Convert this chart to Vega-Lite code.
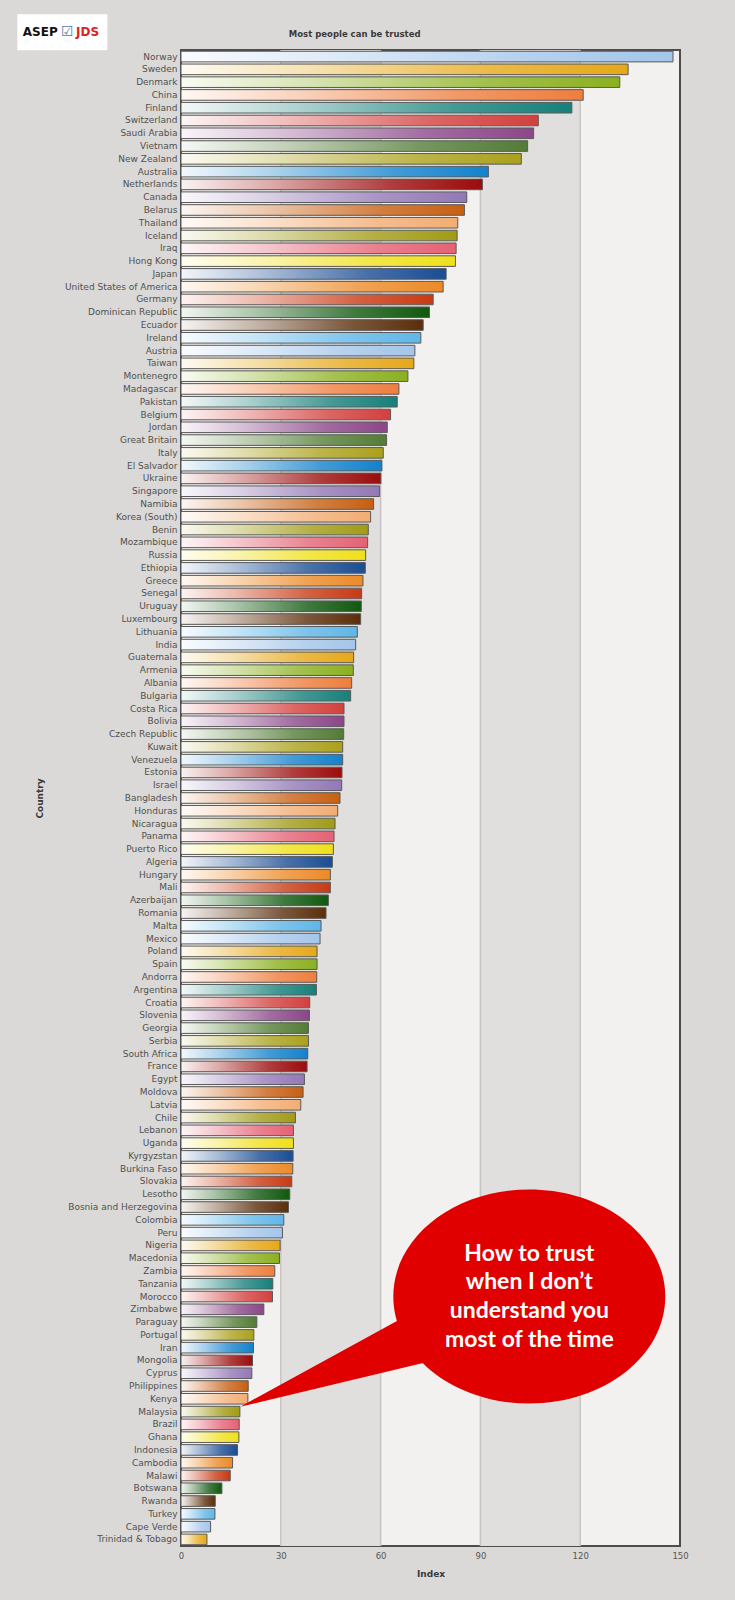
{
  "$schema": "https://vega.github.io/schema/vega-lite/v6.json",
  "width": 499,
  "height": 1496,
  "autosize": {"type": "none"},
  "padding": {"left": 181, "top": 50, "right": 55, "bottom": 54},
  "background": "#dbd9d7",
  "datasets": {
    "trust": [
      {"country": "Norway", "index": 147.9},
      {"country": "Sweden", "index": 134.4},
      {"country": "Denmark", "index": 131.9},
      {"country": "China", "index": 120.9},
      {"country": "Finland", "index": 117.5},
      {"country": "Switzerland", "index": 107.4},
      {"country": "Saudi Arabia", "index": 106.0},
      {"country": "Vietnam", "index": 104.2},
      {"country": "New Zealand", "index": 102.3},
      {"country": "Australia", "index": 92.4},
      {"country": "Netherlands", "index": 90.6},
      {"country": "Canada", "index": 85.9},
      {"country": "Belarus", "index": 85.2},
      {"country": "Thailand", "index": 83.2},
      {"country": "Iceland", "index": 83.0},
      {"country": "Iraq", "index": 82.7},
      {"country": "Hong Kong", "index": 82.5},
      {"country": "Japan", "index": 79.7},
      {"country": "United States of America", "index": 78.8},
      {"country": "Germany", "index": 75.8},
      {"country": "Dominican Republic", "index": 74.7},
      {"country": "Ecuador", "index": 72.8},
      {"country": "Ireland", "index": 72.1},
      {"country": "Austria", "index": 70.3},
      {"country": "Taiwan", "index": 70.0},
      {"country": "Montenegro", "index": 68.2},
      {"country": "Madagascar", "index": 65.5},
      {"country": "Pakistan", "index": 65.0},
      {"country": "Belgium", "index": 63.0},
      {"country": "Jordan", "index": 62.0},
      {"country": "Great Britain", "index": 61.8},
      {"country": "Italy", "index": 60.8},
      {"country": "El Salvador", "index": 60.4},
      {"country": "Ukraine", "index": 60.1},
      {"country": "Singapore", "index": 59.7},
      {"country": "Namibia", "index": 57.9},
      {"country": "Korea (South)", "index": 57.0},
      {"country": "Benin", "index": 56.3},
      {"country": "Mozambique", "index": 56.1},
      {"country": "Russia", "index": 55.5},
      {"country": "Ethiopia", "index": 55.4},
      {"country": "Greece", "index": 54.7},
      {"country": "Senegal", "index": 54.3},
      {"country": "Uruguay", "index": 54.2},
      {"country": "Luxembourg", "index": 54.0},
      {"country": "Lithuania", "index": 53.0},
      {"country": "India", "index": 52.5},
      {"country": "Guatemala", "index": 51.9},
      {"country": "Armenia", "index": 51.8},
      {"country": "Albania", "index": 51.3},
      {"country": "Bulgaria", "index": 51.0},
      {"country": "Costa Rica", "index": 49.0},
      {"country": "Bolivia", "index": 49.0},
      {"country": "Czech Republic", "index": 48.9},
      {"country": "Kuwait", "index": 48.6},
      {"country": "Venezuela", "index": 48.6},
      {"country": "Estonia", "index": 48.4},
      {"country": "Israel", "index": 48.3},
      {"country": "Bangladesh", "index": 47.8},
      {"country": "Honduras", "index": 47.1},
      {"country": "Nicaragua", "index": 46.3},
      {"country": "Panama", "index": 46.0},
      {"country": "Puerto Rico", "index": 45.8},
      {"country": "Algeria", "index": 45.5},
      {"country": "Hungary", "index": 44.9},
      {"country": "Mali", "index": 44.9},
      {"country": "Azerbaijan", "index": 44.3},
      {"country": "Romania", "index": 43.6},
      {"country": "Malta", "index": 42.1},
      {"country": "Mexico", "index": 41.8},
      {"country": "Poland", "index": 40.9},
      {"country": "Spain", "index": 40.9},
      {"country": "Andorra", "index": 40.8},
      {"country": "Argentina", "index": 40.7},
      {"country": "Croatia", "index": 38.7},
      {"country": "Slovenia", "index": 38.6},
      {"country": "Georgia", "index": 38.3},
      {"country": "Serbia", "index": 38.3},
      {"country": "South Africa", "index": 38.1},
      {"country": "France", "index": 37.9},
      {"country": "Egypt", "index": 37.1},
      {"country": "Moldova", "index": 36.7},
      {"country": "Latvia", "index": 36.0},
      {"country": "Chile", "index": 34.4},
      {"country": "Lebanon", "index": 33.8},
      {"country": "Uganda", "index": 33.8},
      {"country": "Kyrgyzstan", "index": 33.7},
      {"country": "Burkina Faso", "index": 33.6},
      {"country": "Slovakia", "index": 33.3},
      {"country": "Lesotho", "index": 32.7},
      {"country": "Bosnia and Herzegovina", "index": 32.3},
      {"country": "Colombia", "index": 30.9},
      {"country": "Peru", "index": 30.5},
      {"country": "Nigeria", "index": 29.8},
      {"country": "Macedonia", "index": 29.6},
      {"country": "Zambia", "index": 28.2},
      {"country": "Tanzania", "index": 27.6},
      {"country": "Morocco", "index": 27.5},
      {"country": "Zimbabwe", "index": 24.9},
      {"country": "Paraguay", "index": 22.8},
      {"country": "Portugal", "index": 21.9},
      {"country": "Iran", "index": 21.8},
      {"country": "Mongolia", "index": 21.5},
      {"country": "Cyprus", "index": 21.3},
      {"country": "Philippines", "index": 20.2},
      {"country": "Kenya", "index": 20.1},
      {"country": "Malaysia", "index": 17.7},
      {"country": "Brazil", "index": 17.5},
      {"country": "Ghana", "index": 17.4},
      {"country": "Indonesia", "index": 17.0},
      {"country": "Cambodia", "index": 15.5},
      {"country": "Malawi", "index": 14.8},
      {"country": "Botswana", "index": 12.3},
      {"country": "Rwanda", "index": 10.3},
      {"country": "Turkey", "index": 10.2},
      {"country": "Cape Verde", "index": 8.9},
      {"country": "Trinidad & Tobago", "index": 7.8}
    ],
    "bands": [
      {"start": 30, "end": 60},
      {"start": 90, "end": 120}
    ],
    "grid": [
      {"v": 30}, {"v": 60}, {"v": 90}, {"v": 120}
    ]
  },
  "data": {"name": "trust"},
  "layer": [
    {
      "data": {"name": "bands"},
      "mark": {"type": "rect", "fill": "#e1dfdd"},
      "encoding": {
        "x": {"field": "start", "type": "quantitative", "title": "Index", "scale": {"domain": [0, 150], "nice": false, "zero": true}},
        "x2": {"field": "end"}
      }
    },
    {
      "data": {"name": "grid"},
      "mark": {"type": "rule", "stroke": "#c6c4c2", "strokeWidth": 1.5},
      "encoding": {
        "x": {"field": "v", "type": "quantitative", "title": "Index"}
      }
    },
    {
      "mark": {"type": "bar", "strokeWidth": 0},
      "encoding": {
        "y": {"field": "country", "type": "nominal", "sort": null, "title": "Country", "scale": {"paddingInner": 0.17, "paddingOuter": 0.1}},
        "x": {"field": "index", "type": "quantitative", "title": "Index", "axis": {"values": [0, 30, 60, 90, 120, 150], "labelFlush": false}},
        "color": {"field": "country", "type": "nominal", "sort": null, "legend": null, "scale": {"range": ["#a4c6ea", "#e6a818", "#8bb020", "#ee7e3e", "#16807a", "#d2403e", "#8c4689", "#537c36", "#aaa11c", "#1282cc", "#9a0c0c", "#9378b6", "#c85f12", "#f2ad74", "#a19b16", "#e46274", "#f0e01a", "#1a4d94", "#ec8a28", "#c83a14", "#11580f", "#5a2e0a", "#5fb6e8"]}}
      }
    },
    {
      "mark": {"type": "bar", "fill": {"gradient": "linear", "x1": 0, "y1": 0, "x2": 1, "y2": 0, "stops": [{"offset": 0, "color": "rgba(255,255,255,0.95)"}, {"offset": 0.3, "color": "rgba(255,255,255,0.65)"}, {"offset": 0.7, "color": "rgba(255,255,255,0.2)"}, {"offset": 1, "color": "rgba(255,255,255,0)"}]}, "stroke": "#5a5a5a", "strokeWidth": 1},
      "encoding": {
        "y": {"field": "country", "type": "nominal", "sort": null, "title": "Country"},
        "x": {"field": "index", "type": "quantitative", "title": "Index"}
      }
    },
    {
      "data": {"values": [{}]},
      "mark": {"type": "point", "shape": "M 0.4533 0 C 0.4533 0.197 0.2504 0.3567 0 0.3567 C -0.2504 0.3567 -0.4533 0.197 -0.4533 0 C -0.4533 -0.197 -0.2504 -0.3567 0 -0.3567 C 0.2504 -0.3567 0.4533 -0.197 0.4533 0 Z M -0.42 0.07 L -0.337 0.217 L -0.963 0.367 Z", "size": 360000, "filled": true, "fill": "#e00000", "opacity": 1, "strokeWidth": 0},
      "encoding": {
        "x": {"datum": 104.7, "type": "quantitative", "title": "Index"},
        "y": {"datum": "Morocco", "type": "nominal", "title": "Country"}
      }
    },
    {
      "data": {"values": [{}]},
      "mark": {"type": "text", "text": ["How to trust", "when I don’t", "understand you", "most of the time"], "font": "Lato", "fontSize": 23, "fontWeight": "bold", "color": "#ffffff", "align": "center", "baseline": "middle", "lineHeight": 28.7, "dy": -43},
      "encoding": {
        "x": {"datum": 104.7, "type": "quantitative", "title": "Index"},
        "y": {"datum": "Morocco", "type": "nominal", "title": "Country"}
      }
    },
    {
      "data": {"values": [{}]},
      "mark": {"type": "text", "text": "Most people can be trusted", "font": "DejaVu Sans", "fontSize": 8.5, "fontWeight": "bold", "color": "#3a3a3a", "align": "center", "baseline": "middle", "dy": -22.4},
      "encoding": {
        "x": {"datum": 52.2, "type": "quantitative", "title": "Index"},
        "y": {"datum": "Norway", "type": "nominal", "title": "Country"}
      }
    },
    {
      "data": {"values": [{}]},
      "mark": {"type": "point", "shape": "M -0.9 -0.848 L 0.9 -0.848 L 0.9 -0.128 L -0.9 -0.128 Z", "size": 10000, "filled": true, "fill": "#ffffff", "opacity": 1, "strokeWidth": 0},
      "encoding": {
        "x": {"datum": -35.66, "type": "quantitative", "title": "Index"},
        "y": {"datum": "Norway", "type": "nominal", "title": "Country"}
      }
    },
    {
      "data": {"values": [{}]},
      "mark": {"type": "text", "text": "ASEP", "font": "DejaVu Sans", "fontSize": 12, "fontWeight": "bold", "color": "#111111", "align": "center", "baseline": "middle", "dy": -24.4},
      "encoding": {
        "x": {"datum": -42.3, "type": "quantitative", "title": "Index"},
        "y": {"datum": "Norway", "type": "nominal", "title": "Country"}
      }
    },
    {
      "data": {"values": [{}]},
      "mark": {"type": "text", "text": "☑", "font": "DejaVu Sans", "fontSize": 14, "color": "#5577aa", "align": "center", "baseline": "middle", "dy": -24.4},
      "encoding": {
        "x": {"datum": -34.2, "type": "quantitative", "title": "Index"},
        "y": {"datum": "Norway", "type": "nominal", "title": "Country"}
      }
    },
    {
      "data": {"values": [{}]},
      "mark": {"type": "text", "text": "JDS", "font": "DejaVu Sans", "fontSize": 12, "fontWeight": "bold", "color": "#e02020", "align": "center", "baseline": "middle", "dy": -24.4},
      "encoding": {
        "x": {"datum": -28.1, "type": "quantitative", "title": "Index"},
        "y": {"datum": "Norway", "type": "nominal", "title": "Country"}
      }
    }
  ],
  "config": {
    "view": {"stroke": "#4d4d4d", "strokeWidth": 2, "fill": "#f2f1ef"},
    "axisX": {"labelFont": "DejaVu Sans", "labelFontSize": 8.5, "labelColor": "#555555", "labelPadding": 5, "ticks": false, "tickSize": 0, "domain": false, "grid": false, "titleFont": "DejaVu Sans", "titleFontSize": 9, "titleFontWeight": "bold", "titleColor": "#3a3a3a", "titleY": 27, "titleBaseline": "middle", "labelFlush": false},
    "axisY": {"labelFont": "DejaVu Sans", "labelFontSize": 9, "labelColor": "#505050", "labelPadding": 4, "ticks": false, "tickSize": 0, "domain": false, "grid": false, "titleFont": "DejaVu Sans", "titleFontSize": 9, "titleFontWeight": "bold", "titleColor": "#3a3a3a", "titleX": -142, "titleY": 748, "titleBaseline": "middle", "labelLimit": 200}
  }
}
